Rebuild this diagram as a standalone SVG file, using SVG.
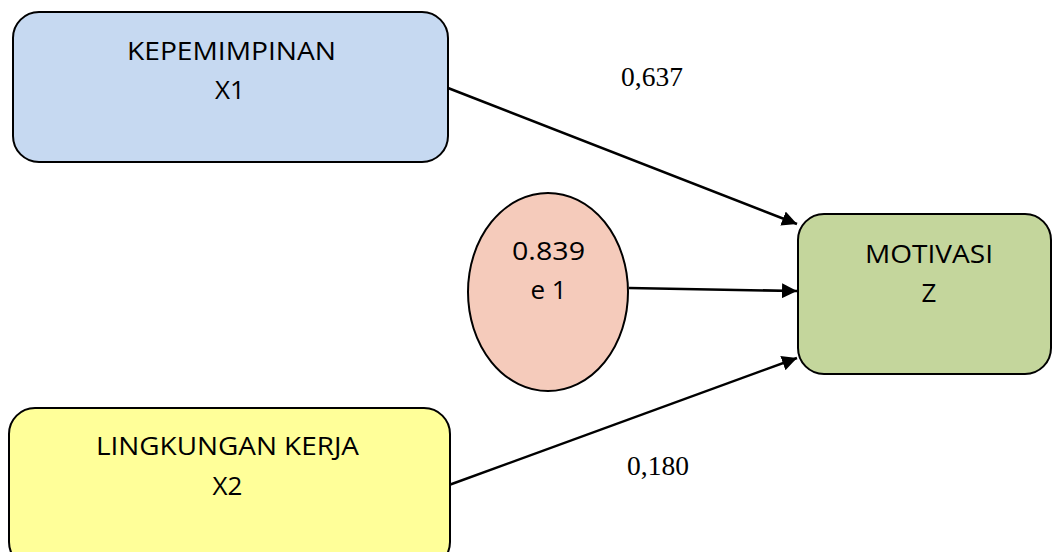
<svg xmlns="http://www.w3.org/2000/svg" width="1052" height="552" viewBox="0 0 1052 552">
<style>
.box{stroke:#000;stroke-width:2}
.t{font-family:"Open Sans","Liberation Sans",sans-serif;font-size:26px;text-anchor:middle;fill:#000}
.n{font-family:"Liberation Serif",serif;font-size:27.5px;text-anchor:middle;fill:#000}
.c{stroke:#000;stroke-width:2.5;fill:none;marker-end:url(#ah)}
</style>
<defs>
<marker id="ah" viewBox="0 0 10 10" refX="10" refY="5" markerWidth="6" markerHeight="6" markerUnits="strokeWidth" orient="auto">
<path d="M0,0 L10,5 L0,10 z" fill="#000"/>
</marker>
</defs>
<rect width="1052" height="552" fill="#fff"/>
<g id="connectors">
<line class="c" x1="448" y1="88" x2="797" y2="224"/>
<line class="c" x1="629" y1="288" x2="797" y2="291"/>
<line class="c" x1="449" y1="485" x2="797" y2="358"/>
</g>
<g id="x1">
<rect class="box" x="13" y="12" width="435" height="150" rx="26" fill="#c6d9f1"/>
<text class="t" x="231.5" y="60" textLength="209" lengthAdjust="spacingAndGlyphs">KEPEMIMPINAN</text>
<text class="t" x="230" y="99">X1</text>
</g>
<g id="e1">
<ellipse class="box" cx="548" cy="292" rx="80" ry="99" fill="#f5cbbb"/>
<text class="t" x="548.5" y="260" textLength="73" lengthAdjust="spacingAndGlyphs">0.839</text>
<text class="t" x="548.5" y="299">e 1</text>
</g>
<g id="z">
<rect class="box" x="798" y="214" width="253" height="160" rx="26" fill="#c4d69c"/>
<text class="t" x="929" y="263" textLength="128" lengthAdjust="spacingAndGlyphs">MOTIVASI</text>
<text class="t" x="929" y="302">Z</text>
</g>
<g id="x2">
<rect class="box" x="9" y="408" width="441" height="160" rx="26" fill="#ffff99"/>
<text class="t" x="227.5" y="455" textLength="263" lengthAdjust="spacingAndGlyphs">LINGKUNGAN KERJA</text>
<text class="t" x="227.5" y="495">X2</text>
</g>
<g id="labels">
<text class="n" x="652" y="86">0,637</text>
<text class="n" x="658" y="475">0,180</text>
</g>
</svg>
